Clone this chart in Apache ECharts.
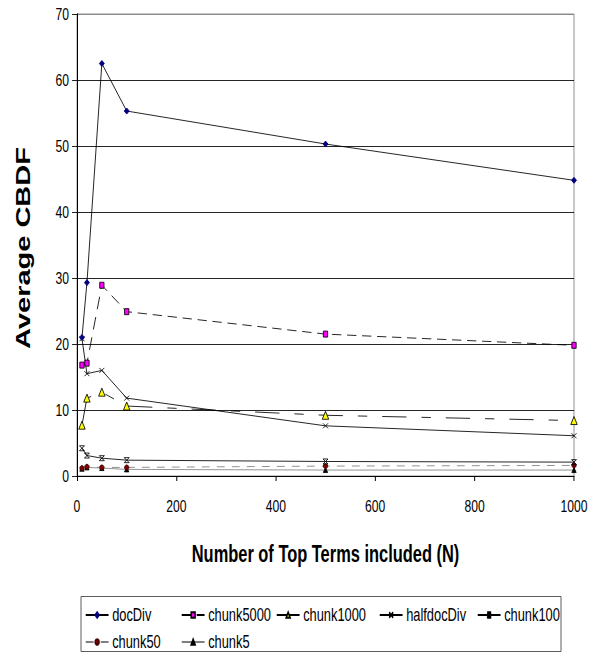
<!DOCTYPE html>
<html>
<head>
<meta charset="utf-8">
<title>Average CBDF vs number of top terms</title>
<script src="https://cdn.jsdelivr.net/npm/echarts@6/dist/echarts.min.js"></script>
<style>
  html, body { margin: 0; padding: 0; background: #fff; overflow: hidden; }
  #frame { width: 595px; height: 653px; overflow: hidden; position: relative; }
  /* the chart is laid out wide and squeezed horizontally, giving the condensed lettering */
  #chart { height: 653px; transform-origin: 0 0; position: absolute; left: 0; top: 0; }
</style>
</head>
<body>
<div id="frame"><div id="chart"></div></div>
<script>
// Number of top terms (N) sampled on the x axis
var topTerms = [10, 20, 50, 100, 500, 1000];

// Average CBDF for each document division scheme
var docDiv     = [21.0, 29.3, 62.5, 55.3, 50.3, 44.8];
var chunk5000  = [16.8, 17.1, 28.9, 24.9, 21.5, 19.8];
var chunk1000  = [7.7, 11.8, 12.7, 10.6, 9.2, 8.4];
var halfdocDiv = [20.8, 15.5, 16.0, 11.8, 7.6, 6.1];
var chunk100   = [4.2, 3.1, 2.7, 2.4, 2.2, 2.1];
var chunk50    = [1.2, 1.4, 1.3, 1.3, 1.5, 1.6];
var chunk5     = [1.1, 1.3, 1.2, 1.0, 0.9, 0.9];

var seriesNames = ['docDiv', 'chunk5000', 'chunk1000', 'halfdocDiv', 'chunk100', 'chunk50', 'chunk5'];
var seriesValues = [docDiv, chunk5000, chunk1000, halfdocDiv, chunk100, chunk50, chunk5];

// Axis ranges and tick spacing
var xTicks = { min: 0, max: 1000, interval: 200 };
var yTicks = { min: 0, max: 70, interval: 10 };

// Horizontal squeeze factor: the chart is drawn SX times wider, then compressed
var SX = 1.4;
function wx(x) { return x * SX; }
var chartEl = document.getElementById('chart');
chartEl.style.width = wx(595) + 'px';
chartEl.style.transform = 'scaleX(' + (1 / SX) + ')';

var font = "'Liberation Sans', Arial, Helvetica, sans-serif";

// Marker shapes for the lines
var SYM_X = 'path://M0,0L10,10M10,0L0,10';
var SYM_STAR = 'path://M0,0L10,10M10,0L0,10M0,0L10,0M0,10L10,10';

var styles = {
  docDiv:     { symbol: 'diamond', size: [7, 6], fill: '#000080', border: '#000080', line: '#000', dash: 'solid' },
  chunk5000:  { symbol: 'rect', size: [6, 6], fill: '#ff00ff', border: '#000', line: '#000', dash: [13, 8] },
  chunk1000:  { symbol: 'triangle', size: [9, 8], fill: '#ffff00', border: '#000', line: '#000', dash: [34, 21, 13, 21] },
  halfdocDiv: { symbol: SYM_X, size: [7, 5], fill: '#000', border: '#000', line: '#000', dash: 'solid' },
  chunk100:   { symbol: SYM_STAR, size: [7, 5], fill: '#000', border: '#000', line: '#000', dash: 'solid' },
  chunk50:    { symbol: 'circle', size: [6, 5], fill: '#800000', border: '#400000', line: '#808080', dash: [11, 10] },
  chunk5:     { symbol: 'triangle', size: [6, 5], fill: '#000', border: '#000', line: '#808080', dash: 'solid' }
};

var series = seriesNames.map(function (name, i) {
  var st = styles[name];
  return {
    name: name,
    type: 'line',
    data: topTerms.map(function (n, j) { return [n, seriesValues[i][j]]; }),
    symbol: st.symbol,
    symbolSize: st.size,
    showAllSymbol: true,
    animation: false,
    lineStyle: { color: st.line, width: 1, type: st.dash },
    itemStyle: { color: st.fill, borderColor: st.border, borderWidth: 1 },
    emphasis: { disabled: true },
    z: 10 - i
  };
});

// Legend entries laid out in two rows inside a framed box
var legendSpots = [
  { name: 'docDiv', left: 85, top: 606 },
  { name: 'chunk5000', left: 181, top: 606 },
  { name: 'chunk1000', left: 276, top: 606 },
  { name: 'halfdocDiv', left: 379, top: 606 },
  { name: 'chunk100', left: 477, top: 606 },
  { name: 'chunk50', left: 85, top: 633 },
  { name: 'chunk5', left: 181, top: 633 }
];
var legends = legendSpots.map(function (s) {
  return {
    data: [s.name],
    left: wx(s.left),
    top: s.top,
    padding: 0,
    itemWidth: 32,
    itemHeight: 7,
    selectedMode: false,
    textStyle: { fontFamily: font, fontSize: 18, color: '#000' }
  };
});

var splitColors = [];
for (var k = yTicks.min; k <= yTicks.max; k += yTicks.interval) {
  splitColors.push(k === yTicks.max ? '#808080' : '#000');
}

var chart = echarts.init(chartEl, null, { renderer: 'svg' });
chart.setOption({
  backgroundColor: '#fff',
  animation: false,
  grid: {
    left: wx(77), right: wx(21), top: 14, bottom: 177,
    show: true, borderColor: '#808080', borderWidth: 1
  },
  xAxis: {
    type: 'value',
    min: xTicks.min, max: xTicks.max, interval: xTicks.interval,
    name: 'Number of Top Terms included (N)',
    nameLocation: 'middle',
    nameGap: 66,
    nameTextStyle: { fontFamily: font, fontSize: 23, fontWeight: 'bold', color: '#000' },
    axisLine: { onZero: false, lineStyle: { color: '#000', width: 1 } },
    axisTick: { show: true, length: 5, inside: false, lineStyle: { color: '#000', width: SX } },
    axisLabel: {
      margin: 22, fontFamily: font, fontSize: 17, color: '#000',
      formatter: function (v) { return String(v); }
    },
    splitLine: { show: false }
  },
  yAxis: {
    type: 'value',
    min: yTicks.min, max: yTicks.max, interval: yTicks.interval,
    axisLine: { show: true, lineStyle: { color: '#000', width: SX } },
    axisTick: { show: true, length: wx(5), inside: false, lineStyle: { color: '#000' } },
    axisLabel: { margin: wx(8), fontFamily: font, fontSize: 17, color: '#000' },
    splitLine: { show: true, lineStyle: { color: splitColors, width: 1 } }
  },
  legend: legends,
  graphic: [
    {
      type: 'text',
      x: wx(23), y: 248,
      rotation: Math.PI / 2,
      style: {
        text: 'Average CBDF',
        font: 'bold 29px ' + font,
        fill: '#000',
        align: 'center',
        verticalAlign: 'middle'
      }
    },
    {
      type: 'rect',
      shape: { x: wx(81), y: 596.5, width: wx(480), height: 55 },
      style: { fill: 'none', stroke: '#404040', lineWidth: 1 },
      z: -1
    }
  ],
  series: series
});
</script>
</body>
</html>
